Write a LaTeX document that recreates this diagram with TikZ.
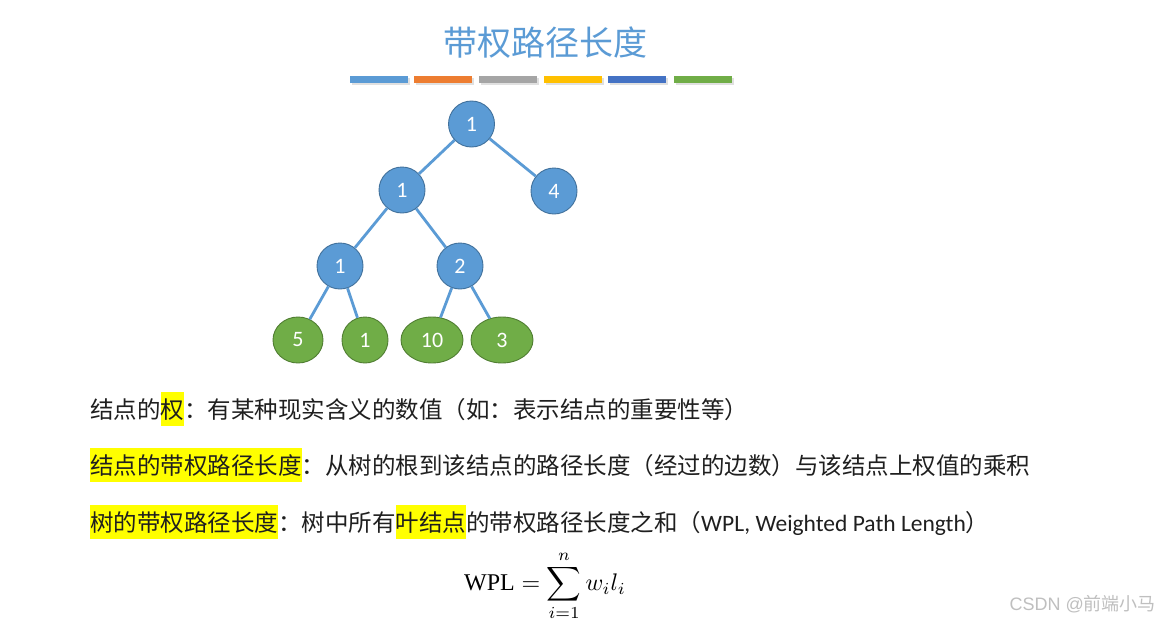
\documentclass[tikz,border=0pt]{standalone}
\usepackage{fontspec}
\setmainfont{Liberation Serif}
\newfontfamily\cjk{Noto Sans CJK SC}
\newfontfamily\latinf{Carlito}
\newfontfamily\wmfont{Liberation Sans}
\definecolor{nodeblue}{HTML}{5B9BD5}
\definecolor{nodeblueb}{HTML}{41719C}
\definecolor{nodegreen}{HTML}{70AD47}
\definecolor{nodegreenb}{HTML}{507E32}
\definecolor{barorange}{HTML}{ED7D31}
\definecolor{bargray}{HTML}{A5A5A5}
\definecolor{baryellow}{HTML}{FFC000}
\definecolor{bardblue}{HTML}{4472C4}
\definecolor{hlyellow}{HTML}{FFFF00}
\definecolor{txt}{HTML}{1F1F1F}
\newcommand{\hlt}[1]{{\setlength{\fboxsep}{0pt}\colorbox{hlyellow}{\rule[-8pt]{0pt}{34pt}#1}}}
\tikzset{
  inner/.style={circle, fill=nodeblue, draw=nodeblueb, line width=0.9pt, minimum size=46pt, inner sep=0pt,
    text=white, font=\latinf\fontsize{22}{26}\selectfont},
  leaf/.style={ellipse, fill=nodegreen, draw=nodegreenb, line width=0.9pt, inner sep=0pt,
    text=white, font=\latinf\fontsize{22}{26}\selectfont},
  edge/.style={draw=nodeblue, line width=2.8pt},
  bar/.style={fill=#1, draw=none},
  bodytext/.style={anchor=base west, inner sep=0pt, text=txt, font=\cjk\fontsize{23.5}{28}\selectfont},
}
\usetikzlibrary{shapes.geometric}
\begin{document}
\begin{tikzpicture}[x=1pt,y=-1pt]
\fill[white] (0,0) rectangle (1162,624);
\useasboundingbox (0,0) rectangle (1162,624);
% title
\node[text=nodeblue, font=\cjk\fontsize{34}{40}\selectfont, inner sep=0pt] (title) at (545,43) {带权路径长度};
% colour bars with faint shadow
\foreach \xa/\xb/\c in {350/408/nodeblue,414/472/barorange,479/537/bargray,544/602/baryellow,608/666/bardblue,674/732/nodegreen}{
  \fill[black!12] (\xa+1.5,78) rectangle (\xb+1.5,85);
  \fill[bar=\c] (\xa,76) rectangle (\xb,83);
}
% tree nodes
\node[inner] (r) at (471.5,124) {1};
\node[inner] (a) at (402,190) {1};
\node[inner] (b) at (554,191) {4};
\node[inner] (c) at (340,266) {1};
\node[inner] (d) at (460,266) {2};
\node[leaf, minimum width=50pt, minimum height=46pt] (l1) at (298,340) {5};
\node[leaf, minimum width=46pt, minimum height=46pt] (l2) at (365,340) {1};
\node[leaf, minimum width=62pt, minimum height=46pt] (l3) at (432,340) {10};
\node[leaf, minimum width=62pt, minimum height=46pt] (l4) at (502,340) {3};
\draw[edge] (r) -- (a);
\draw[edge] (r) -- (b);
\draw[edge] (a) -- (c);
\draw[edge] (a) -- (d);
\draw[edge] (c) -- (l1);
\draw[edge] (c) -- (l2);
\draw[edge] (d) -- (l3);
\draw[edge] (d) -- (l4);
% text lines
\node[bodytext] (t1) at (90,418) {结点的\hlt{权}：有某种现实含义的数值（如：表示结点的重要性等）};
\node[bodytext] (t2) at (90,474) {\hlt{结点的带权路径长度}：从树的根到该结点的路径长度（经过的边数）与该结点上权值的乘积};
\node[bodytext] (t3) at (90,531) {\hlt{树的带权路径长度}：树中所有\hlt{叶结点}的带权路径长度之和（{\latinf WPL, Weighted Path Length}）};
% formula
\node[inner sep=0pt, scale=2.4] (f) at (545,586) {$\displaystyle \mathrm{WPL}=\sum_{i=1}^{n} w_i l_i$};
% watermark
\node[anchor=east, inner sep=0pt, text=black!25, font=\fontsize{18}{22}\selectfont] (wm) at (1156,604) {{\wmfont CSDN @}{\cjk 前端小马}};
\end{tikzpicture}
\end{document}
